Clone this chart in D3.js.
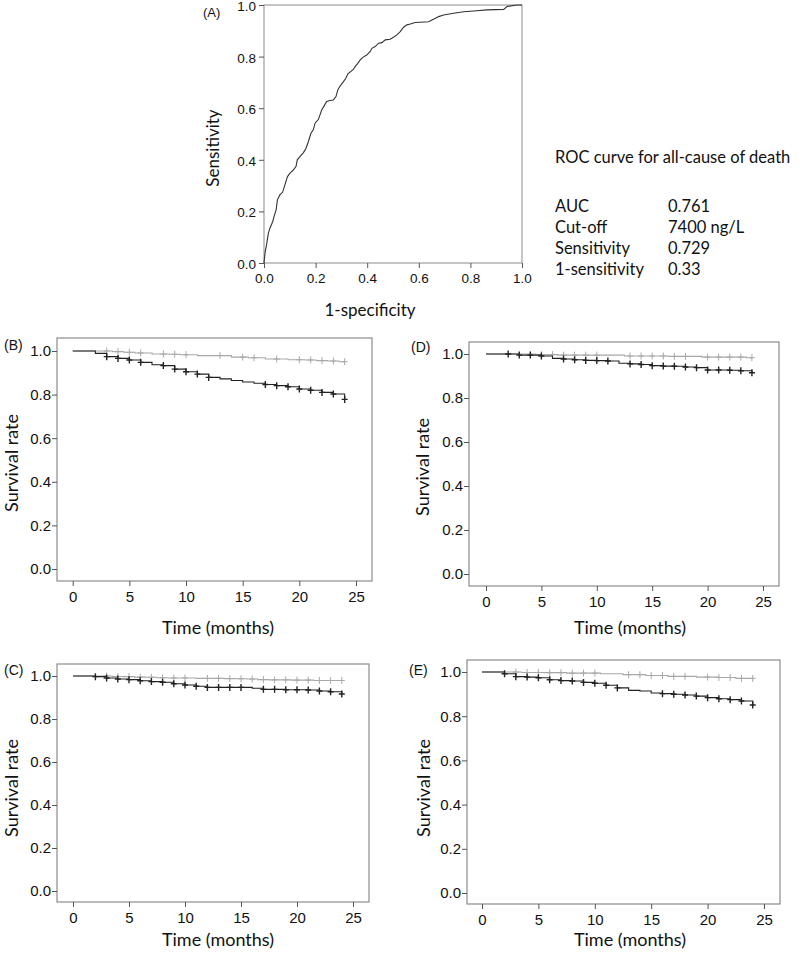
<!DOCTYPE html>
<html><head><meta charset="utf-8">
<script src="https://cdn.jsdelivr.net/npm/d3@7"></script>
<style>body{margin:0;background:#fff}svg{display:block}</style>
</head><body>
<script>
// ---------- DATA ----------
// ROC curve (A)
const rocFpr = [0,0.004,0.01,0.017,0.023,0.034,0.039,0.047,0.052,0.062,0.072,0.081,0.091,0.101,0.114,0.124,0.129,0.14,0.153,0.163,0.172,0.182,0.191,0.198,0.211,0.217,0.224,0.233,0.243,0.256,0.269,0.279,0.286,0.295,0.308,0.317,0.325,0.336,0.347,0.353,0.362,0.373,0.383,0.398,0.411,0.418,0.431,0.444,0.457,0.47,0.489,0.502,0.515,0.528,0.541,0.554,0.567,0.586,0.605,0.638,0.657,0.677,0.696,0.735,0.774,0.812,0.864,0.929,0.942,0.98,1];
const rocTpr = [0,0.039,0.071,0.116,0.135,0.161,0.181,0.206,0.245,0.265,0.274,0.303,0.335,0.348,0.361,0.374,0.4,0.413,0.428,0.445,0.471,0.503,0.516,0.542,0.557,0.574,0.594,0.609,0.626,0.63,0.632,0.645,0.671,0.686,0.703,0.716,0.733,0.742,0.751,0.761,0.772,0.787,0.797,0.806,0.819,0.832,0.839,0.852,0.854,0.865,0.867,0.875,0.884,0.897,0.914,0.923,0.926,0.932,0.933,0.935,0.945,0.955,0.961,0.968,0.974,0.977,0.981,0.983,0.994,1,1];
const rocTicks = [0,0.2,0.4,0.6,0.8,1.0];
const rocInfoLabels = ["AUC","Cut-off","Sensitivity","1-sensitivity"];
const rocInfoValues = ["0.761","7400 ng/L","0.729","0.33"];

const kmXTicks = [0,5,10,15,20,25];
const kmYTicks = [0,0.2,0.4,0.6,0.8,1.0];

// Panel B
const bHighTimes = [0,2,3,4,5,6,7,8,9,10,11,12,13,14,15,16,17,18,19,20,21,22,23,24];
const bHighSurv  = [1.000,0.989,0.974,0.966,0.959,0.948,0.937,0.933,0.917,0.905,0.894,0.879,0.872,0.865,0.858,0.852,0.846,0.841,0.836,0.826,0.820,0.810,0.803,0.778];
const bHighCens  = [3,4,5,6,8,9,10,11,12,17,18,19,20,21,22,23,24];
const bLowTimes  = [0,3.5,4.5,5.5,7,8.5,9.5,11,14,15.5,17,19,20.5,21.5,22.5,23.5];
const bLowSurv   = [1.000,0.997,0.994,0.991,0.986,0.985,0.983,0.979,0.972,0.969,0.963,0.960,0.959,0.956,0.954,0.951];
const bLowCens   = [3,4,5,6,8,9,10,13,15,16,18,20,21,22,23,24];

// Panel D
const dHighTimes = [0,3,5,6,7,8,9,10,11,12,13,14,15,16,17,18,19,20,22,23,24];
const dHighSurv  = [1.000,0.995,0.991,0.980,0.977,0.974,0.971,0.970,0.968,0.958,0.955,0.952,0.947,0.945,0.944,0.941,0.938,0.927,0.926,0.924,0.915];
const dHighCens  = [2,3,4,5,7,8,9,10,11,13,14,15,16,17,18,19,20,21,22,23,24];
const dLowTimes  = [0,4.5,6.5,12.5,16.5,19.5,23.5];
const dLowSurv   = [1.000,0.997,0.995,0.991,0.989,0.986,0.983];
const dLowCens   = [5,6,7,8,9,10,13,14,15,16,17,18,20,21,22,23,24];

// Panel C
const cHighTimes = [0,2,3,4,5,6,7,8,9,10,11,12,16,17,19,21,22,23,24];
const cHighSurv  = [1.000,0.997,0.991,0.986,0.983,0.978,0.974,0.971,0.964,0.958,0.952,0.947,0.943,0.938,0.936,0.935,0.930,0.927,0.916];
const cHighCens  = [2,3,4,5,6,7,8,9,10,11,12,13,14,15,17,18,19,20,21,22,23,24];
const cLowTimes  = [0,3.5,4.5,5.5,6.5,7.5,8.5,11,13.5,14.5,15.5,16.5,17.5,19.5,21.5];
const cLowSurv   = [1.000,0.998,0.997,0.995,0.994,0.992,0.991,0.989,0.988,0.987,0.986,0.983,0.982,0.981,0.979];
const cLowCens   = [3,4,5,6,7,8,9,10,12,13,14,15,16,17,18,19,20,21,22,23,24];

// Panel E
const eHighTimes = [0,2,3,4,5,6,7,8,9,10,11,12,13,14,15,16,17,18,19,20,21,22,23,24];
const eHighSurv  = [1.000,0.992,0.979,0.977,0.974,0.965,0.961,0.959,0.953,0.949,0.940,0.928,0.917,0.914,0.905,0.902,0.899,0.896,0.891,0.884,0.879,0.875,0.869,0.851];
const eHighCens  = [2,3,4,5,6,7,8,9,10,11,12,16,17,18,19,20,21,22,23,24];
const eLowTimes  = [0,3.5,5.5,7.5,10.5,12.5,14.5,16.5,19,21,22.5];
const eLowSurv   = [1.000,0.998,0.997,0.995,0.992,0.988,0.984,0.980,0.977,0.975,0.971];
const eLowCens   = [3,4,5,6,7,8,9,10,13,14,15,16,17,18,20,21,22,23,24];

const endTime = 24;

// ---------- DRAW ----------
const svg = d3.select("body").append("svg").attr("width",800).attr("height",953);
const tickFont = "'Liberation Sans', Arial, sans-serif";
const titleFont = "Lato, 'Open Sans', sans-serif";
const frameColor = "#8c8c8c";
const fmt = d3.format(".1f");

function styleAxis(g, fs){
  g.select(".domain").remove();
  g.selectAll(".tick line").attr("stroke","#555");
  g.selectAll(".tick text").attr("fill","#111").style("font-family",tickFont).style("font-size",fs+"px");
}

// ROC panel
(function(){
  const x = d3.scaleLinear().domain([0,1]).range([264,522]);
  const y = d3.scaleLinear().domain([0,1]).range([263,5]);
  const g = svg.append("g");
  g.append("rect").attr("x",x(0)).attr("y",y(1)).attr("width",x(1)-x(0)).attr("height",y(0)-y(1))
    .attr("fill","none").attr("stroke",frameColor).attr("stroke-width",1);
  const ya = g.append("g").attr("transform",`translate(${x(0)},0)`)
    .call(d3.axisLeft(y).tickValues(rocTicks).tickFormat(fmt).tickSize(5).tickPadding(3));
  styleAxis(ya,13.5);
  ya.selectAll(".tick text").attr("dy","0.4em");
  const xa = g.append("g").attr("transform",`translate(0,${y(0)})`)
    .call(d3.axisBottom(x).tickValues(rocTicks).tickFormat(fmt).tickSize(5).tickPadding(5));
  styleAxis(xa,13.5);
  const pts = rocFpr.map((f,i)=>[f,rocTpr[i]]);
  g.append("path").datum(pts).attr("fill","none").attr("stroke","#333").attr("stroke-width",1.1)
    .attr("d",d3.line().x(d=>x(d[0])).y(d=>y(d[1])));
  g.append("text").attr("x",203).attr("y",17).text("(A)")
    .style("font-family",tickFont).style("font-size","13px").attr("fill","#111");
  g.append("text").attr("transform","translate(219,148) rotate(-90)").attr("text-anchor","middle")
    .text("Sensitivity").style("font-family",titleFont).style("font-size","17px").attr("fill","#111");
  g.append("text").attr("x",370).attr("y",316).attr("text-anchor","middle")
    .text("1-specificity").style("font-family",titleFont).style("font-size","17px").attr("fill","#111");
  // info block
  g.append("text").attr("x",555).attr("y",163).text("ROC curve for all-cause of death")
    .style("font-family",titleFont).style("font-size","16.5px").attr("fill","#111");
  rocInfoLabels.forEach((l,i)=>{
    const yy = 212 + i*21;
    g.append("text").attr("x",555).attr("y",yy).text(l)
      .style("font-family",titleFont).style("font-size","16.5px").attr("fill","#111");
    g.append("text").attr("x",668).attr("y",yy).text(rocInfoValues[i])
      .style("font-family",titleFont).style("font-size","16.5px").attr("fill","#111");
  });
})();

function survAt(times, surv, t){
  let v = surv[0];
  for(let i=0;i<times.length;i++){ if(times[i] <= t + 1e-9) v = surv[i]; }
  return v;
}

function kmPanel(cfg){
  const g = svg.append("g");
  const x = d3.scaleLinear().domain([0,25]).range(cfg.xr);
  const y = d3.scaleLinear().domain([0,1]).range(cfg.yr);
  const [l,t,r,b] = cfg.frame;
  g.append("rect").attr("x",l).attr("y",t).attr("width",r-l).attr("height",b-t)
    .attr("fill","none").attr("stroke",frameColor).attr("stroke-width",1.2);
  const ya = g.append("g").attr("transform",`translate(${l},0)`)
    .call(d3.axisLeft(y).tickValues(kmYTicks).tickFormat(fmt).tickSize(5).tickPadding(1));
  styleAxis(ya,15);
  const xa = g.append("g").attr("transform",`translate(0,${b})`)
    .call(d3.axisBottom(x).tickValues(kmXTicks).tickFormat(d3.format("d")).tickSize(5).tickPadding(5));
  styleAxis(xa,15);
  cfg.series.forEach(s=>{
    const pts = s.times.map((tt,i)=>[tt,s.surv[i]]);
    pts.push([endTime, s.surv[s.surv.length-1]]);
    g.append("path").datum(pts).attr("fill","none").attr("stroke",s.color).attr("stroke-width",1.1)
      .attr("d",d3.line().curve(d3.curveStepAfter).x(d=>x(d[0])).y(d=>y(d[1])));
    g.selectAll(null).data(s.cens).enter().append("path")
      .attr("transform",d=>`translate(${x(d)},${y(survAt(s.times,s.surv,d))})`)
      .attr("d","M-3,0H3M0,-3.5V3.5").attr("stroke",s.color).attr("stroke-width",s.mw).attr("fill","none");
  });
  g.append("text").attr("x",cfg.letter[0]).attr("y",cfg.letter[1]).text(cfg.name)
    .style("font-family",tickFont).style("font-size","14px").attr("fill","#111");
  g.append("text").attr("transform",`translate(${cfg.ylab[0]},${cfg.ylab[1]}) rotate(-90)`).attr("text-anchor","middle")
    .text("Survival rate").style("font-family",titleFont).style("font-size","18px").attr("fill","#111");
  g.append("text").attr("x",cfg.xlab[0]).attr("y",cfg.xlab[1]).attr("text-anchor","middle")
    .text("Time (months)").style("font-family",titleFont).style("font-size","18px").attr("fill","#111");
}

const gray = "#a8a8a8", dark = "#222";
kmPanel({name:"(B)", frame:[57,338,372,581], xr:[72.7,356], yr:[569,351], letter:[4,350], ylab:[18,463], xlab:[218,634],
  series:[{times:bLowTimes,surv:bLowSurv,cens:bLowCens,color:gray,mw:1},{times:bHighTimes,surv:bHighSurv,cens:bHighCens,color:dark,mw:1.4}]});
kmPanel({name:"(D)", frame:[469,342,779,586], xr:[486,763], yr:[574,354], letter:[411,352], ylab:[429,467], xlab:[630,634],
  series:[{times:dLowTimes,surv:dLowSurv,cens:dLowCens,color:gray,mw:1},{times:dHighTimes,surv:dHighSurv,cens:dHighCens,color:dark,mw:1.4}]});
kmPanel({name:"(C)", frame:[57,664,369,902], xr:[73,353], yr:[891,676], letter:[4,675], ylab:[18,788], xlab:[218,946],
  series:[{times:cLowTimes,surv:cLowSurv,cens:cLowCens,color:gray,mw:1},{times:cHighTimes,surv:cHighSurv,cens:cHighCens,color:dark,mw:1.4}]});
kmPanel({name:"(E)", frame:[467,660,780,904], xr:[482,764], yr:[893,672], letter:[409,675], ylab:[430,788], xlab:[630,946],
  series:[{times:eLowTimes,surv:eLowSurv,cens:eLowCens,color:gray,mw:1},{times:eHighTimes,surv:eHighSurv,cens:eHighCens,color:dark,mw:1.4}]});
</script>
</body></html>
